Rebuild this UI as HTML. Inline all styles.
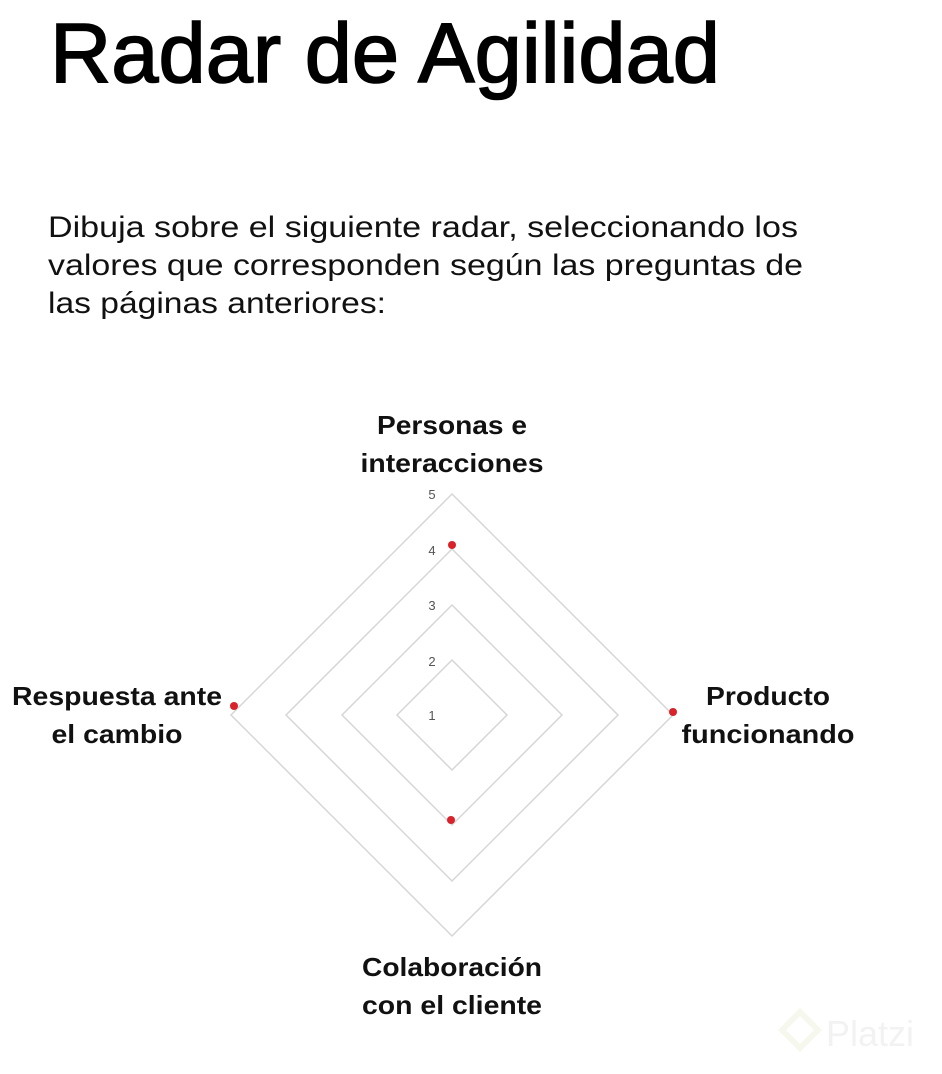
<!DOCTYPE html>
<html><head><meta charset="utf-8"><style>
html,body{margin:0;padding:0;background:#fff;}
svg{display:block;}
text{font-family:"Liberation Sans",sans-serif;}
</style></head><body>
<svg width="942" height="1074" viewBox="0 0 942 1074" xmlns="http://www.w3.org/2000/svg">
<rect width="942" height="1074" fill="#fff"/>
<text x="50" y="82" font-size="84" fill="#000" stroke="#000" stroke-width="1.6" textLength="670" lengthAdjust="spacingAndGlyphs">Radar de Agilidad</text>
<g font-size="30" fill="#111">
<text x="48" y="237" textLength="750" lengthAdjust="spacingAndGlyphs">Dibuja sobre el siguiente radar, seleccionando los</text>
<text x="48" y="275" textLength="755" lengthAdjust="spacingAndGlyphs">valores que corresponden según las preguntas de</text>
<text x="48" y="313" textLength="338" lengthAdjust="spacingAndGlyphs">las páginas anteriores:</text>
</g>
<g fill="none" stroke="#d6d6d6" stroke-width="1.5">
<polygon points="452,494 673,715 452,936 231,715"/>
<polygon points="452,549 618,715 452,881 286,715"/>
<polygon points="452,605 562,715 452,825 342,715"/>
<polygon points="452,660 507,715 452,770 397,715"/>
</g>
<g font-size="13" fill="#555" text-anchor="middle">
<text x="432" y="499">5</text>
<text x="432" y="555">4</text>
<text x="432" y="610">3</text>
<text x="432" y="666">2</text>
<text x="432" y="720">1</text>
</g>
<g fill="#d9222a">
<circle cx="452" cy="545" r="4"/>
<circle cx="234" cy="706" r="4"/>
<circle cx="673" cy="712" r="4"/>
<circle cx="451" cy="820" r="4"/>
</g>
<g font-size="26" font-weight="bold" fill="#111" text-anchor="middle">
<text x="452" y="434" textLength="150" lengthAdjust="spacingAndGlyphs">Personas e</text>
<text x="452" y="472" textLength="183" lengthAdjust="spacingAndGlyphs">interacciones</text>
<text x="117" y="705" textLength="210" lengthAdjust="spacingAndGlyphs">Respuesta ante</text>
<text x="117" y="743" textLength="131" lengthAdjust="spacingAndGlyphs">el cambio</text>
<text x="768" y="705" textLength="124" lengthAdjust="spacingAndGlyphs">Producto</text>
<text x="768" y="743" textLength="173" lengthAdjust="spacingAndGlyphs">funcionando</text>
<text x="452" y="976" textLength="180" lengthAdjust="spacingAndGlyphs">Colaboración</text>
<text x="452" y="1014" textLength="180" lengthAdjust="spacingAndGlyphs">con el cliente</text>
</g>
<g opacity="0.5">
<polygon points="800,1012 818,1030 800,1048 782,1030" fill="none" stroke="#eef3df" stroke-width="6"/>
<text x="826" y="1046" font-size="36" fill="#e6e6e6">Platzi</text>
</g>
</svg>
</body></html>
